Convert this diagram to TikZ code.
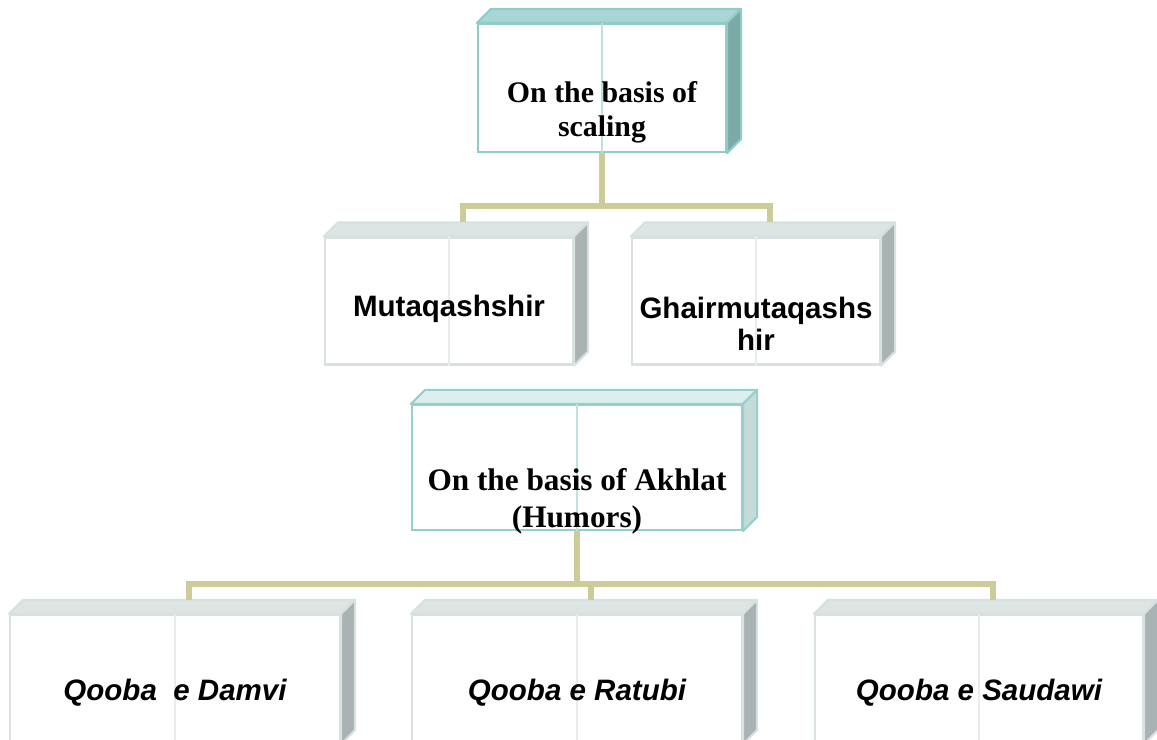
\documentclass[tikz,border=0pt]{standalone}
\usepackage{fontspec}
\setmainfont{Liberation Serif}
\newfontfamily\arialfont{Liberation Sans}
\definecolor{tealedge}{HTML}{8FCBC8}
\definecolor{tealtop}{HTML}{A9D6D4}
\definecolor{tealside}{HTML}{7BAAA7}
\definecolor{greyedge}{HTML}{D8E0E0}
\definecolor{greytop}{HTML}{DDE5E4}
\definecolor{greyside}{HTML}{AAB3B3}
\definecolor{paleedge}{HTML}{96CFCB}
\definecolor{paletop}{HTML}{DCEEED}
\definecolor{paleside}{HTML}{C5DBDA}
\definecolor{linkline}{HTML}{CDCB97}

% top and right faces of a box, plus the faint middle rule
\newcommand{\boxfaces}[4]{%
  \filldraw[fill=#2, draw=#4, line width=0.6pt, line join=round] (#1.north west) -- ++(0.14,0.14)
    -- ([shift={(0.14,0.14)}]#1.north east) -- (#1.north east) -- cycle;
  \filldraw[fill=#3, draw=#4, line width=0.6pt, line join=round] (#1.north east) -- ++(0.14,0.14)
    -- ([shift={(0.14,0.14)}]#1.south east) -- (#1.south east) -- cycle;
  \draw[#4!60, line width=0.4pt] (#1.north) -- (#1.south);
}

\begin{document}
\begin{tikzpicture}[
    face/.style={draw, fill=white, line width=0.6pt, inner sep=0pt,
      minimum width=2.48cm, minimum height=1.27cm},
    wideface/.style={face, minimum width=3.30cm},
    serifhead/.style={font=\fontsize{8.5}{9.7}\selectfont\bfseries, align=center},
    sanslabel/.style={font=\arialfont\fontsize{8.4}{9.1}\selectfont\bfseries, align=center},
    italabel/.style={sanslabel, font=\arialfont\fontsize{8.4}{9.1}\selectfont\bfseries\itshape},
    link/.style={linkline, line width=1.45pt}
  ]
  \useasboundingbox (0,0) rectangle (11.57,7.4);

  % Scaling tree
  \node[face, draw=tealedge, minimum height=1.28cm] (scaling) at (6.02,6.52) {};
  \boxfaces{scaling}{tealtop}{tealside}{tealedge}
  \node[face, draw=greyedge] (mutaq) at (4.49,4.39) {};
  \boxfaces{mutaq}{greytop}{greyside}{greyedge}
  \node[face, draw=greyedge] (ghair) at (7.56,4.39) {};
  \boxfaces{ghair}{greytop}{greyside}{greyedge}

  \node[serifhead] (scalingtext) at ([yshift=-0.24cm]scaling.center) {On the basis of\\scaling};
  \node[sanslabel] (mutaqtext) at ([yshift=-0.08cm]mutaq.center) {Mutaqashshir};
  \node[sanslabel] (ghairtext) at ([yshift=-0.23cm]ghair.center) {Ghairmutaqashs\\hir};

  \coordinate (scalingbus) at ([yshift=-0.53cm]scaling.south);
  \draw[link] (scaling.south) -- (scalingbus) -| ([shift={(0.14,0.14)}]mutaq.north);
  \draw[link] (scalingbus) -| ([shift={(0.14,0.14)}]ghair.north);

  % Akhlat tree
  \node[wideface, draw=paleedge, minimum height=1.25cm] (akhlat) at (5.77,2.725) {};
  \boxfaces{akhlat}{paletop}{paleside}{paleedge}
  \node[wideface, draw=greyedge, minimum height=1.28cm] (damvi) at (1.75,0.61) {};
  \boxfaces{damvi}{greytop}{greyside}{greyedge}
  \node[wideface, draw=greyedge, minimum height=1.28cm] (ratubi) at (5.77,0.61) {};
  \boxfaces{ratubi}{greytop}{greyside}{greyedge}
  \node[wideface, draw=greyedge, minimum height=1.28cm, minimum width=3.28cm] (saudawi) at (9.79,0.61) {};
  \boxfaces{saudawi}{greytop}{greyside}{greyedge}

  \node[serifhead, font=\fontsize{8.9}{10.5}\selectfont\bfseries] (akhlattext) at ([yshift=-0.34cm]akhlat.center) {On the basis of Akhlat\\(Humors)};
  \node[italabel] (damvitext) at ([yshift=-0.14cm]damvi.center) {Qooba\ \ e Damvi};
  \node[italabel] (ratubitext) at ([yshift=-0.14cm]ratubi.center) {Qooba e Ratubi};
  \node[italabel] (saudawitext) at ([yshift=-0.14cm]saudawi.center) {Qooba e Saudawi};

  \coordinate (akhlatbus) at ([yshift=-0.53cm]akhlat.south);
  \draw[link] (akhlat.south) -- (akhlatbus) -| ([shift={(0.14,0.14)}]damvi.north);
  \draw[link] (akhlatbus) -| ([shift={(0.14,0.14)}]ratubi.north);
  \draw[link] (akhlatbus) -| ([shift={(0.14,0.14)}]saudawi.north);
\end{tikzpicture}
\end{document}
